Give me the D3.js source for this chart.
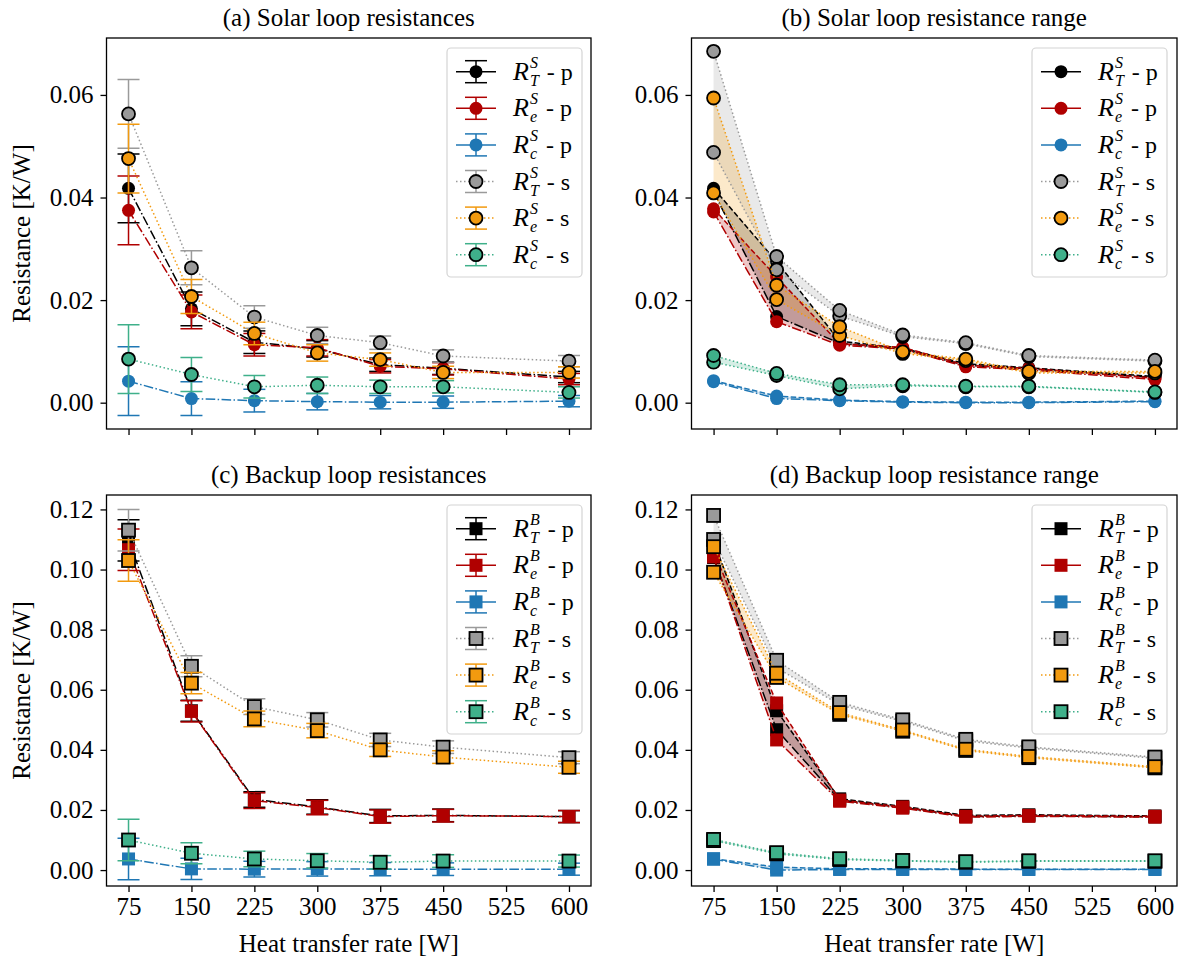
<!DOCTYPE html>
<html>
<head>
<meta charset="utf-8">
<script src="https://cdn.jsdelivr.net/npm/d3@7"></script>
<style>
  html, body { margin: 0; padding: 0; background: #fff; }
  svg { display: block; }
  text { font-family: "Liberation Serif", "DejaVu Serif", serif; fill: #000; }
</style>
</head>
<body>
<svg id="chart" width="1185" height="962"></svg>
<script>
// ---- data -------------------------------------------------------------
const heatRates = [75, 150, 225, 300, 375, 450, 600];
const xTicks = [75, 150, 225, 300, 375, 450, 525, 600];

// (a) solar loop, mean values with uncertainty
const solarTp = [0.0418, 0.0183, 0.0118, 0.0105, 0.0074, 0.0067, 0.0050];
const solarEp = [0.0375, 0.0177, 0.0113, 0.0107, 0.0071, 0.0066, 0.0046];
const solarCp = [0.0042, 0.0008, 0.0004, 0.0002, 0.0001, 0.0001, 0.0003];
const solarTs = [0.0563, 0.0263, 0.0167, 0.0131, 0.0117, 0.0091, 0.0081];
const solarEs = [0.0476, 0.0207, 0.0135, 0.0097, 0.0084, 0.0059, 0.0059];
const solarCs = [0.0085, 0.0055, 0.0031, 0.0034, 0.0031, 0.0031, 0.0020];
const solarErr = [0.0067, 0.0033, 0.0022, 0.0016, 0.0013, 0.0012, 0.0011];

// (b) solar loop, lower and upper bounds
const solarTpLo = [0.0411, 0.0168, 0.0116, 0.0104, 0.0073, 0.0066, 0.0049];
const solarTpHi = [0.0418, 0.0275, 0.0120, 0.0106, 0.0076, 0.0068, 0.0051];
const solarEpLo = [0.0372, 0.0158, 0.0112, 0.0105, 0.0070, 0.0064, 0.0045];
const solarEpHi = [0.0378, 0.0245, 0.0115, 0.0108, 0.0073, 0.0067, 0.0048];
const solarCpLo = [0.0041, 0.0008, 0.0004, 0.0001, 0.0000, 0.0000, 0.0002];
const solarCpHi = [0.0043, 0.0013, 0.0005, 0.0002, 0.0001, 0.0001, 0.0003];
const solarTsLo = [0.0488, 0.0259, 0.0169, 0.0129, 0.0115, 0.0090, 0.0081];
const solarTsHi = [0.0685, 0.0285, 0.0180, 0.0132, 0.0117, 0.0092, 0.0083];
const solarEsLo = [0.0409, 0.0201, 0.0131, 0.0096, 0.0082, 0.0058, 0.0058];
const solarEsHi = [0.0594, 0.0229, 0.0148, 0.0099, 0.0085, 0.0061, 0.0061];
const solarCsLo = [0.0079, 0.0053, 0.0027, 0.0033, 0.0031, 0.0031, 0.0020];
const solarCsHi = [0.0092, 0.0057, 0.0035, 0.0035, 0.0032, 0.0032, 0.0021];

// (c) backup loop, mean values with uncertainty
const backupTp = [0.1097, 0.0530, 0.0235, 0.0210, 0.0180, 0.0182, 0.0178];
const backupEp = [0.1066, 0.0528, 0.0231, 0.0208, 0.0178, 0.0181, 0.0178];
const backupCp = [0.0037, 0.0004, 0.0003, 0.0004, 0.0003, 0.0003, 0.0003];
const backupTs = [0.1131, 0.0678, 0.0544, 0.0500, 0.0433, 0.0409, 0.0374];
const backupEs = [0.1030, 0.0622, 0.0503, 0.0464, 0.0400, 0.0376, 0.0342];
const backupCs = [0.0100, 0.0056, 0.0037, 0.0031, 0.0026, 0.0030, 0.0030];
const backupErr = [0.0069, 0.0035, 0.0026, 0.0024, 0.0022, 0.0021, 0.0020];

// (d) backup loop, lower and upper bounds
const backupTpLo = [0.1040, 0.0467, 0.0233, 0.0208, 0.0178, 0.0180, 0.0177];
const backupTpHi = [0.1095, 0.0530, 0.0237, 0.0212, 0.0182, 0.0184, 0.0180];
const backupEpLo = [0.1042, 0.0433, 0.0229, 0.0206, 0.0176, 0.0179, 0.0176];
const backupEpHi = [0.1062, 0.0556, 0.0233, 0.0210, 0.0179, 0.0182, 0.0179];
const backupCpLo = [0.0036, 0.0000, 0.0002, 0.0002, 0.0002, 0.0002, 0.0002];
const backupCpHi = [0.0038, 0.0010, 0.0004, 0.0004, 0.0003, 0.0003, 0.0003];
const backupTsLo = [0.1100, 0.0673, 0.0550, 0.0495, 0.0430, 0.0406, 0.0372];
const backupTsHi = [0.1180, 0.0698, 0.0558, 0.0500, 0.0435, 0.0410, 0.0376];
const backupEsLo = [0.0991, 0.0641, 0.0518, 0.0462, 0.0398, 0.0374, 0.0340];
const backupEsHi = [0.1076, 0.0655, 0.0524, 0.0466, 0.0402, 0.0378, 0.0344];
const backupCsLo = [0.0098, 0.0054, 0.0035, 0.0030, 0.0026, 0.0029, 0.0029];
const backupCsHi = [0.0102, 0.0058, 0.0038, 0.0032, 0.0028, 0.0031, 0.0031];

const solarYTicks = [0.00, 0.02, 0.04, 0.06];
const backupYTicks = [0.00, 0.02, 0.04, 0.06, 0.08, 0.10, 0.12];

// ---- styling ------------------------------------------------------------
const colors = {
  T_p: "#000000", e_p: "#b00000", c_p: "#1f77b4",
  T_s: "#9a9a9a", e_s: "#f29a0f", c_s: "#3fb08a"
};
const dashDot = "9.6,2.4,1.5,2.4";
const dashed = "5.5,2.4";
const dotted = "1.5,2.5";

const seriesKeys = [
  { key: "T_p", sub: "T", tag: "p", edge: false, dash: dashDot },
  { key: "e_p", sub: "e", tag: "p", edge: false, dash: dashDot },
  { key: "c_p", sub: "c", tag: "p", edge: false, dash: dashDot },
  { key: "T_s", sub: "T", tag: "s", edge: true, dash: dotted },
  { key: "e_s", sub: "e", tag: "s", edge: true, dash: dotted },
  { key: "c_s", sub: "c", tag: "s", edge: true, dash: dotted }
];

const panels = [
  {
    title: "(a) Solar loop resistances", kind: "err", sup: "S", shape: "circle",
    x: [106.5, 591], y: [429, 38], yDomain: [-0.00513, 0.0711], yTicks: solarYTicks,
    xLabels: false, yLabel: true, legendX: 447,
    mean: [solarTp, solarEp, solarCp, solarTs, solarEs, solarCs], err: solarErr
  },
  {
    title: "(b) Solar loop resistance range", kind: "range", sup: "S", shape: "circle",
    x: [691.5, 1177], y: [429, 38], yDomain: [-0.00513, 0.0711], yTicks: solarYTicks,
    xLabels: false, yLabel: false, legendX: 1032,
    lo: [solarTpLo, solarEpLo, solarCpLo, solarTsLo, solarEsLo, solarCsLo],
    hi: [solarTpHi, solarEpHi, solarCpHi, solarTsHi, solarEsHi, solarCsHi]
  },
  {
    title: "(c) Backup loop resistances", kind: "err", sup: "B", shape: "square",
    x: [106.5, 591], y: [886, 495], yDomain: [-0.0053, 0.1248], yTicks: backupYTicks,
    xLabels: true, yLabel: true, legendX: 447,
    mean: [backupTp, backupEp, backupCp, backupTs, backupEs, backupCs], err: backupErr
  },
  {
    title: "(d) Backup loop resistance range", kind: "range", sup: "B", shape: "square",
    x: [691.5, 1177], y: [886, 495], yDomain: [-0.0053, 0.1248], yTicks: backupYTicks,
    xLabels: true, yLabel: false, legendX: 1032,
    lo: [backupTpLo, backupEpLo, backupCpLo, backupTsLo, backupEsLo, backupCsLo],
    hi: [backupTpHi, backupEpHi, backupCpHi, backupTsHi, backupEsHi, backupCsHi]
  }
];

const svg = d3.select("#chart");
const R = 6.5;      // marker radius / half side
const CAP = 11;     // error bar cap half width

function drawMarker(g, shape, cx, cy, fill, edge) {
  let m;
  if (shape === "circle") {
    m = g.append("circle").attr("cx", cx).attr("cy", cy).attr("r", R);
  } else {
    m = g.append("rect").attr("x", cx - R).attr("y", cy - R)
      .attr("width", 2 * R).attr("height", 2 * R);
  }
  m.attr("fill", fill)
    .attr("stroke", edge ? "#000" : "none")
    .attr("stroke-width", edge ? 1.8 : 0);
  return m;
}

function drawErrorBar(g, cx, yTop, yBot, color) {
  g.append("line").attr("x1", cx).attr("x2", cx).attr("y1", yTop).attr("y2", yBot)
    .attr("stroke", color).attr("stroke-width", 1.5);
  [yTop, yBot].forEach(yy => {
    g.append("line").attr("x1", cx - CAP).attr("x2", cx + CAP).attr("y1", yy).attr("y2", yy)
      .attr("stroke", color).attr("stroke-width", 1.5);
  });
}

// "R" with stacked super/subscript followed by " - p"/" - s", as one text element
function legendLabel(g, x, y, sup, sub, tag) {
  const t = g.append("text").attr("x", x).attr("y", y);
  const rT = t.append("tspan").style("font-size", "26px").style("font-style", "italic").text("R");
  const rw = rT.node().getComputedTextLength();
  const supT = t.append("tspan").attr("x", x + rw + 1).attr("dy", -12)
    .style("font-size", "16px").style("font-style", "italic").text(sup);
  const subT = t.append("tspan").attr("x", x + rw + 1).attr("dy", 18)
    .style("font-size", "16px").style("font-style", "italic").text(sub);
  const w = Math.max(supT.node().getComputedTextLength(), subT.node().getComputedTextLength());
  t.append("tspan").attr("x", x + rw + w + 9).attr("dy", -6)
    .style("font-size", "24px").text("- " + tag);
}

panels.forEach(p => {
  const xScale = d3.scaleLinear().domain([48.75, 626.25]).range(p.x);
  const yScale = d3.scaleLinear().domain(p.yDomain).range(p.y);
  const g = svg.append("g");

  // clip plotting area
  const clipId = "clip" + p.title.charAt(1);
  svg.append("clipPath").attr("id", clipId).append("rect")
    .attr("x", p.x[0]).attr("y", p.y[1]).attr("width", p.x[1] - p.x[0]).attr("height", p.y[0] - p.y[1]);
  const plot = g.append("g").attr("clip-path", `url(#${clipId})`);

  const line = d3.line().x((d, i) => xScale(heatRates[i])).y(d => yScale(d));

  if (p.kind === "err") {
    seriesKeys.forEach((s, k) => {
      const vals = p.mean[k];
      const col = colors[s.key];
      const sg = plot.append("g");
      sg.append("path").datum(vals).attr("d", line).attr("fill", "none")
        .attr("stroke", col).attr("stroke-width", 1.5).attr("stroke-dasharray", s.dash);
      vals.forEach((v, i) => {
        const cx = xScale(heatRates[i]);
        drawErrorBar(sg, cx, yScale(v + p.err[i]), yScale(v - p.err[i]), col);
      });
      vals.forEach((v, i) => {
        drawMarker(sg, p.shape, xScale(heatRates[i]), yScale(v), col, s.edge);
      });
    });
  } else {
    const area = d3.area().x((d, i) => xScale(heatRates[i]))
      .y0(d => yScale(d[0])).y1(d => yScale(d[1]));
    seriesKeys.forEach((s, k) => {
      const col = colors[s.key];
      const pairs = p.lo[k].map((v, i) => [v, p.hi[k][i]]);
      plot.append("path").datum(pairs).attr("d", area)
        .attr("fill", col).attr("fill-opacity", 0.22).attr("stroke", "none");
    });
    seriesKeys.forEach((s, k) => {
      const col = colors[s.key];
      const sg = plot.append("g");
      sg.append("path").datum(p.lo[k]).attr("d", line).attr("fill", "none")
        .attr("stroke", col).attr("stroke-width", 1.5)
        .attr("stroke-dasharray", s.tag === "p" ? dashDot : dotted);
      sg.append("path").datum(p.hi[k]).attr("d", line).attr("fill", "none")
        .attr("stroke", col).attr("stroke-width", 1.5)
        .attr("stroke-dasharray", s.tag === "p" ? dashed : dotted);
      [p.lo[k], p.hi[k]].forEach(arr => arr.forEach((v, i) => {
        drawMarker(sg, p.shape, xScale(heatRates[i]), yScale(v), col, s.edge);
      }));
    });
  }

  // axes
  const xAxis = d3.axisBottom(xScale).tickValues(xTicks).tickSize(6).tickPadding(5)
    .tickFormat(p.xLabels ? d3.format("d") : () => "");
  const xg = g.append("g").attr("transform", `translate(0,${p.y[0]})`).call(xAxis);
  const yAxis = d3.axisLeft(yScale).tickValues(p.yTicks).tickSize(6).tickPadding(7)
    .tickFormat(d3.format(".2f"));
  const yg = g.append("g").attr("transform", `translate(${p.x[0]},0)`).call(yAxis);
  [xg, yg].forEach(a => {
    a.select(".domain").remove();
    a.selectAll(".tick line").attr("stroke", "#000").attr("stroke-width", 1.3);
    a.selectAll(".tick text").style("font-size", "25px").style("font-family", "Liberation Serif");
  });

  // frame
  g.append("rect").attr("x", p.x[0]).attr("y", p.y[1])
    .attr("width", p.x[1] - p.x[0]).attr("height", p.y[0] - p.y[1])
    .attr("fill", "none").attr("stroke", "#000").attr("stroke-width", 1.3);

  // title
  g.append("text").attr("x", (p.x[0] + p.x[1]) / 2).attr("y", p.y[1] - 12)
    .attr("text-anchor", "middle").style("font-size", "25px").text(p.title);

  if (p.xLabels) {
    g.append("text").attr("x", (p.x[0] + p.x[1]) / 2).attr("y", p.y[0] + 66)
      .attr("text-anchor", "middle").style("font-size", "25px").text("Heat transfer rate [W]");
  }
  if (p.yLabel) {
    const cy = (p.y[0] + p.y[1]) / 2;
    g.append("text").attr("transform", `translate(30,${cy}) rotate(-90)`)
      .attr("text-anchor", "middle").style("font-size", "25px").text("Resistance [K/W]");
  }

  // legend
  const lx = p.legendX, ly = p.y[1] + 10;
  const lg = g.append("g");
  lg.append("rect").attr("x", lx).attr("y", ly).attr("width", 135).attr("height", 229)
    .attr("rx", 4).attr("fill", "#fff").attr("fill-opacity", 0.85)
    .attr("stroke", "#d4d4d4").attr("stroke-width", 1.2);
  seriesKeys.forEach((s, k) => {
    const ey = ly + 23.7 + k * 36.6;
    const col = colors[s.key];
    const hx = lx + 29;
    lg.append("line").attr("x1", lx + 9).attr("x2", lx + 49).attr("y1", ey).attr("y2", ey)
      .attr("stroke", col).attr("stroke-width", 1.5)
      .attr("stroke-dasharray", s.tag === "p" ? null : dotted);
    if (p.kind === "err") drawErrorBar(lg, hx, ey - CAP, ey + CAP, col);
    drawMarker(lg, p.shape, hx, ey, col, s.edge);
    legendLabel(lg, lx + 66, ey + 8, p.sup, s.sub, s.tag);
  });
});
</script>
</body>
</html>
